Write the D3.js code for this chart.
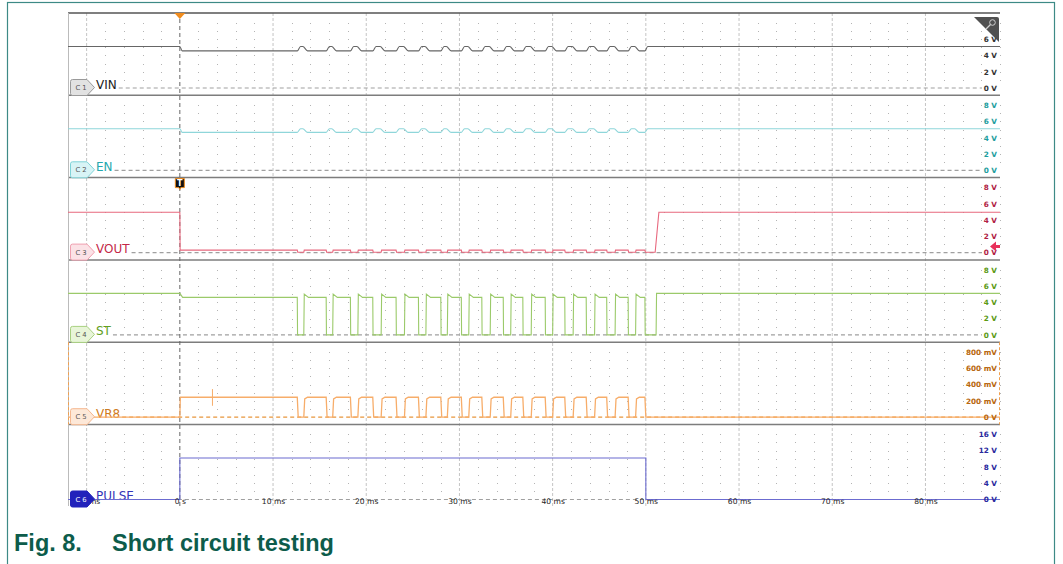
<!DOCTYPE html>
<html>
<head>
<meta charset="utf-8">
<script src="https://cdn.jsdelivr.net/npm/d3@7"></script>
<style>
  body { margin: 0; background: #fff; }
  svg { display: block; }
</style>
</head>
<body>
<script>
// time axis (ms)
const timeTicks = [-10, 0, 10, 20, 30, 40, 50, 60, 70, 80];
const timeLabels = ["-10 ms", "0 s", "10 ms", "20 ms", "30 ms", "40 ms", "50 ms", "60 ms", "70 ms", "80 ms"];

// channels
const channels = ["C 1", "C 2", "C 3", "C 4", "C 5", "C 6"];
const names = ["VIN", "EN", "VOUT", "ST", "VR8", "PULSE"];
const voltPerDiv = [2, 2, 2, 2, 0.2, 4];
const voltTicks = [[0, 2, 4, 6, 8], [0, 2, 4, 6, 8], [0, 2, 4, 6, 8], [0, 2, 4, 6, 8], [0, 0.2, 0.4, 0.6, 0.8], [0, 4, 8, 12, 16]];
const voltLabels = [
  ["0 V", "2 V", "4 V", "6 V", "8 V"],
  ["0 V", "2 V", "4 V", "6 V", "8 V"],
  ["0 V", "2 V", "4 V", "6 V", "8 V"],
  ["0 V", "2 V", "4 V", "6 V", "8 V"],
  ["0 V", "200 mV", "400 mV", "600 mV", "800 mV"],
  ["0 V", "4 V", "8 V", "12 V", "16 V"]
];

// ST edges (ms)
const stFall = [12.6, 15.7, 18.3, 20.7, 23.2, 25.6, 28.0, 30.2, 32.4, 34.7, 36.8, 39.2, 41.3, 43.6, 45.8, 48.1, 49.9];
const stRise = [13.3, 16.4, 19.1, 21.6, 24.1, 26.4, 28.7, 31.0, 33.3, 35.5, 37.7, 40.0, 42.2, 44.5, 46.7, 48.9, 51.1];

// levels (V): before trigger, after trigger, during ST low / overshoot
const vinLevels = [5.1, 4.55, 5.1];
const enLevels = [5.1, 4.65, 5.1];
const voutLevels = [4.95, 0.3, 0.05];
const voutRecover = [51.0, 51.4];
const stLevels = [5.1, 4.6, 5.0, 0];
const vr8Levels = [0, 0.245];
const vr8Spike = [3.5, 0.14, 0.345];
const pulseEdges = [0, 50];
const pulseLevels = [0, 10.2];

const traceColors = ["#666666", "#8fd6da", "#e8687e", "#9bca6a", "#f7ad6a", "#6b6bd0"];
const labelColors = ["#333333", "#1e9e9e", "#b01e44", "#5b9a14", "#b8680e", "#2a2a9e"];
const nameColors = ["#222222", "#26a8ae", "#c42848", "#62a020", "#d07a20", "#3434b8"];
const tagFill = ["#e2e2e2", "#d8f4f6", "#fbe2e6", "#e8f5d8", "#fde8d8", "#2222bb"];
const tagStroke = ["#9a9a9a", "#7fd3d8", "#f0a0b0", "#a8d080", "#f5b890", "#2222bb"];

const W = 1063, H = 564;
const pLeft = 68, pRight = 1000, pTop = 13, laneH = 82.3, zeroOff = 75, divPx = 16.3, pBottom = 506;

const svg = d3.select("body").append("svg").attr("width", W).attr("height", H);

const x = d3.scaleLinear().domain([-12, 88]).range([pLeft, pRight]);
const ys = names.map((n, i) => d3.scaleLinear()
  .domain([0, voltPerDiv[i]])
  .range([pTop + laneH * i + zeroOff, pTop + laneH * i + zeroOff - divPx]));

// outer frame
svg.append("rect").attr("x", 7.5).attr("y", 2.5).attr("width", 1047).attr("height", 600)
  .attr("fill", "none").attr("stroke", "#3d8a86").attr("stroke-width", 1.2);

// minor grid dots
const dotG = svg.append("g").attr("fill", "#b4b4b4");
const minorT = d3.range(-12, 89, 2).filter(t => t % 10 !== 0);
names.forEach((n, i) => {
  d3.range(1, 9).forEach(k => {
    minorT.forEach(t => {
      dotG.append("rect").attr("x", Math.round(x(t))).attr("y", Math.round(ys[i](k * voltPerDiv[i] / 2)))
        .attr("width", 1).attr("height", 1);
    });
  });
});

// major grid
svg.append("g").selectAll("line").data(timeTicks.filter(t => t !== 0)).enter().append("line")
  .attr("x1", d => x(d)).attr("x2", d => x(d)).attr("y1", pTop).attr("y2", pBottom)
  .attr("stroke", "#c4c4c4").attr("stroke-dasharray", "3,2");

// lane separators
svg.append("g").selectAll("line").data(names).enter().append("line")
  .attr("x1", pLeft).attr("x2", pRight)
  .attr("y1", (d, i) => pTop + laneH * i).attr("y2", (d, i) => pTop + laneH * i)
  .attr("stroke", (d, i) => i === 0 ? "#555" : "#7d7d7d").attr("stroke-width", 1.5);

svg.append("line").attr("x1", pLeft + 0.5).attr("x2", pLeft + 0.5).attr("y1", pTop).attr("y2", pBottom)
  .attr("stroke", "#bbb");

// VR8 selection marks
[pLeft + 0.5, pRight - 0.5].forEach(xx => {
  svg.append("line").attr("x1", xx).attr("x2", xx).attr("y1", pTop + laneH * 4).attr("y2", pTop + laneH * 5)
    .attr("stroke", "#f0a050").attr("stroke-dasharray", "3,2");
});

// channel names (drawn early so the zero lines can start after them)
const nameText = svg.append("g").selectAll("text").data(names).enter().append("text")
  .attr("x", 96).attr("y", (d, i) => ys[i](0) + 0.5)
  .attr("font-family", "DejaVu Sans").attr("font-size", 12)
  .attr("fill", (d, i) => nameColors[i]).text(d => d);

// zero lines
nameText.each(function (d, i) {
  const w = this.getComputedTextLength();
  svg.append("line").attr("x1", 98 + w).attr("x2", pRight - 18)
    .attr("y1", ys[i](0)).attr("y2", ys[i](0))
    .attr("stroke", i === 4 ? "#e8963c" : "#a0a0a0").attr("stroke-width", 1.2)
    .attr("stroke-dasharray", "4,3");
});

// trigger line
svg.append("line").attr("x1", x(0)).attr("x2", x(0)).attr("y1", pTop + 6).attr("y2", pBottom)
  .attr("stroke", "#666").attr("stroke-dasharray", "4,3");

// waveforms
function bumpTrace(lv) {
  const p = [[-12, lv[0]], [0, lv[0]], [0.25, lv[1]]];
  stFall.forEach((f, i) => {
    const r = stRise[i];
    if (i < stFall.length - 1) p.push([f, lv[1]], [f + 0.35, lv[2]], [r - 0.1, lv[2]], [r + 0.4, lv[1]]);
    else p.push([f, lv[1]], [f + 0.3, lv[0]]);
  });
  p.push([88, lv[0]]);
  return p;
}
function voutTrace(lv) {
  const p = [[-12, lv[0]], [0, lv[0]], [0.03, lv[1]]];
  stFall.forEach((f, i) => {
    const r = stRise[i];
    p.push([f, lv[1]], [f + 0.05, lv[2]]);
    if (i < stFall.length - 1) p.push([r, lv[2]], [r + 0.05, lv[1]]);
    else p.push([voutRecover[0], lv[2]], [voutRecover[1], lv[0]]);
  });
  p.push([88, lv[0]]);
  return p;
}
function stTrace(lv) {
  const p = [[-12, lv[0]], [0, lv[0]], [0.3, lv[1]]];
  stFall.forEach((f, i) => {
    const r = stRise[i];
    p.push([f, lv[1]], [f + 0.03, lv[3]], [r, lv[3]]);
    if (i < stFall.length - 1) p.push([r + 0.05, lv[2]], [r + 0.5, lv[1]]);
    else p.push([r + 0.05, lv[0]]);
  });
  p.push([88, lv[0]]);
  return p;
}
function vr8Trace(lv) {
  const p = [[-12, lv[0]], [0, lv[0]], [0.05, lv[1]]];
  stFall.forEach((f, i) => {
    const r = stRise[i];
    p.push([f, lv[1]], [f + 0.1, lv[0]]);
    if (i < stFall.length - 1) p.push([r, lv[0]], [r + 0.1, lv[1] * 0.92], [r + 0.4, lv[1]]);
  });
  p.push([88, lv[0]]);
  return p;
}
const pulsePts = [[-12, pulseLevels[0]], [pulseEdges[0], pulseLevels[0]], [pulseEdges[0], pulseLevels[1]],
  [pulseEdges[1], pulseLevels[1]], [pulseEdges[1], pulseLevels[0]], [88, pulseLevels[0]]];

const traces = [bumpTrace(vinLevels), bumpTrace(enLevels), voutTrace(voutLevels), stTrace(stLevels), vr8Trace(vr8Levels), pulsePts];

traces.forEach((pts, i) => {
  const line = d3.line().x(d => x(d[0])).y(d => ys[i](d[1]))
    .curve(i < 2 ? d3.curveMonotoneX : d3.curveLinear);
  svg.append("path").attr("d", line(pts)).attr("fill", "none")
    .attr("stroke", traceColors[i]).attr("stroke-width", i === 4 ? 1.3 : 1.1);
});

svg.append("line").attr("x1", x(vr8Spike[0])).attr("x2", x(vr8Spike[0]))
  .attr("y1", ys[4](vr8Spike[1])).attr("y2", ys[4](vr8Spike[2]))
  .attr("stroke", traceColors[4]).attr("stroke-width", 1);

// right voltage labels
names.forEach((n, i) => {
  const ax = d3.axisLeft(ys[i]).tickValues(voltTicks[i]).tickFormat((d, k) => voltLabels[i][k])
    .tickSize(0).tickPadding(2);
  const g = svg.append("g").attr("transform", `translate(${pRight - 1},0)`).call(ax);
  g.select(".domain").remove();
  g.selectAll("text").attr("font-family", "DejaVu Sans").attr("font-size", 7.3).attr("font-weight", "bold")
    .attr("fill", labelColors[i]);
});

// time labels
const tAxis = d3.axisBottom(x).tickValues(timeTicks).tickFormat((d, i) => timeLabels[i]).tickSize(0).tickPadding(2);
const tg = svg.append("g").attr("transform", "translate(0,497)").call(tAxis);
tg.select(".domain").remove();
tg.selectAll("text").attr("font-family", "DejaVu Sans").attr("font-size", 7.6).attr("fill", "#222");

// channel tags
names.forEach((n, i) => {
  const yc = ys[i](0) - 0.5, x0 = 70.5, x1 = 87, tip = 94.5;
  const path = `M${x0 + 2},${yc - 8} L${x1},${yc - 8} L${tip},${yc} L${x1},${yc + 8} L${x0 + 2},${yc + 8}
    Q${x0},${yc + 8} ${x0},${yc + 6} L${x0},${yc - 6} Q${x0},${yc - 8} ${x0 + 2},${yc - 8} Z`;
  svg.append("path").attr("d", path).attr("fill", tagFill[i]).attr("stroke", tagStroke[i]);
  svg.append("text").attr("x", 81).attr("y", yc + 2.5).attr("text-anchor", "middle")
    .attr("font-family", "DejaVu Sans").attr("font-size", 6.8)
    .attr("fill", i === 5 ? "#fff" : "#555").text(channels[i]);
});
nameText.raise();

// trigger markers
const tx = x(0);
svg.append("path").attr("d", `M${tx - 5.5},${pTop} L${tx + 5.5},${pTop} L${tx},${pTop + 6} Z`).attr("fill", "#f08c1e");
const ty = pTop + laneH * 2;
svg.append("path").attr("d", `M${tx - 4.5},${ty + 1} h9 v9 h-3.5 l-1,2 l-1,-2 h-3.5 Z`)
  .attr("fill", "#111").attr("stroke", "#f08c1e");
svg.append("text").attr("x", tx).attr("y", ty + 8.5).attr("text-anchor", "middle")
  .attr("font-family", "DejaVu Sans").attr("font-size", 8).attr("font-weight", "bold")
  .attr("fill", "#fff").text("T");

// VOUT offset arrow
const ay = ys[2](0) - 6;
svg.append("path").attr("d", `M${pRight - 10},${ay} L${pRight - 4},${ay - 5} L${pRight - 4},${ay - 1.5} L${pRight},${ay - 1.5} L${pRight},${ay + 1.5} L${pRight - 4},${ay + 1.5} L${pRight - 4},${ay + 5} Z`)
  .attr("fill", "#e8305a");

// zoom icon
svg.append("path").attr("d", `M${pRight - 26},${pTop + 4} L${pRight - 3},${pTop + 4} Q${pRight - 1},${pTop + 4} ${pRight - 1},${pTop + 6} L${pRight - 1},${pTop + 29} Z`)
  .attr("fill", "#505050");
svg.append("circle").attr("cx", pRight - 7.5).attr("cy", pTop + 9.5).attr("r", 2.8)
  .attr("fill", "none").attr("stroke", "#cfcfcf").attr("stroke-width", 1);
svg.append("line").attr("x1", pRight - 9.5).attr("y1", pTop + 11.5).attr("x2", pRight - 14).attr("y2", pTop + 16)
  .attr("stroke", "#cfcfcf").attr("stroke-width", 1.3);

// caption
const cap = svg.append("g").attr("font-family", "Liberation Sans, Arial, sans-serif").attr("font-weight", "bold")
  .attr("font-size", 23.5).attr("fill", "#0d5c4b");
cap.append("text").attr("x", 14).attr("y", 551).text("Fig. 8.");
cap.append("text").attr("x", 112).attr("y", 551).text("Short circuit testing");
</script>
</body>
</html>
